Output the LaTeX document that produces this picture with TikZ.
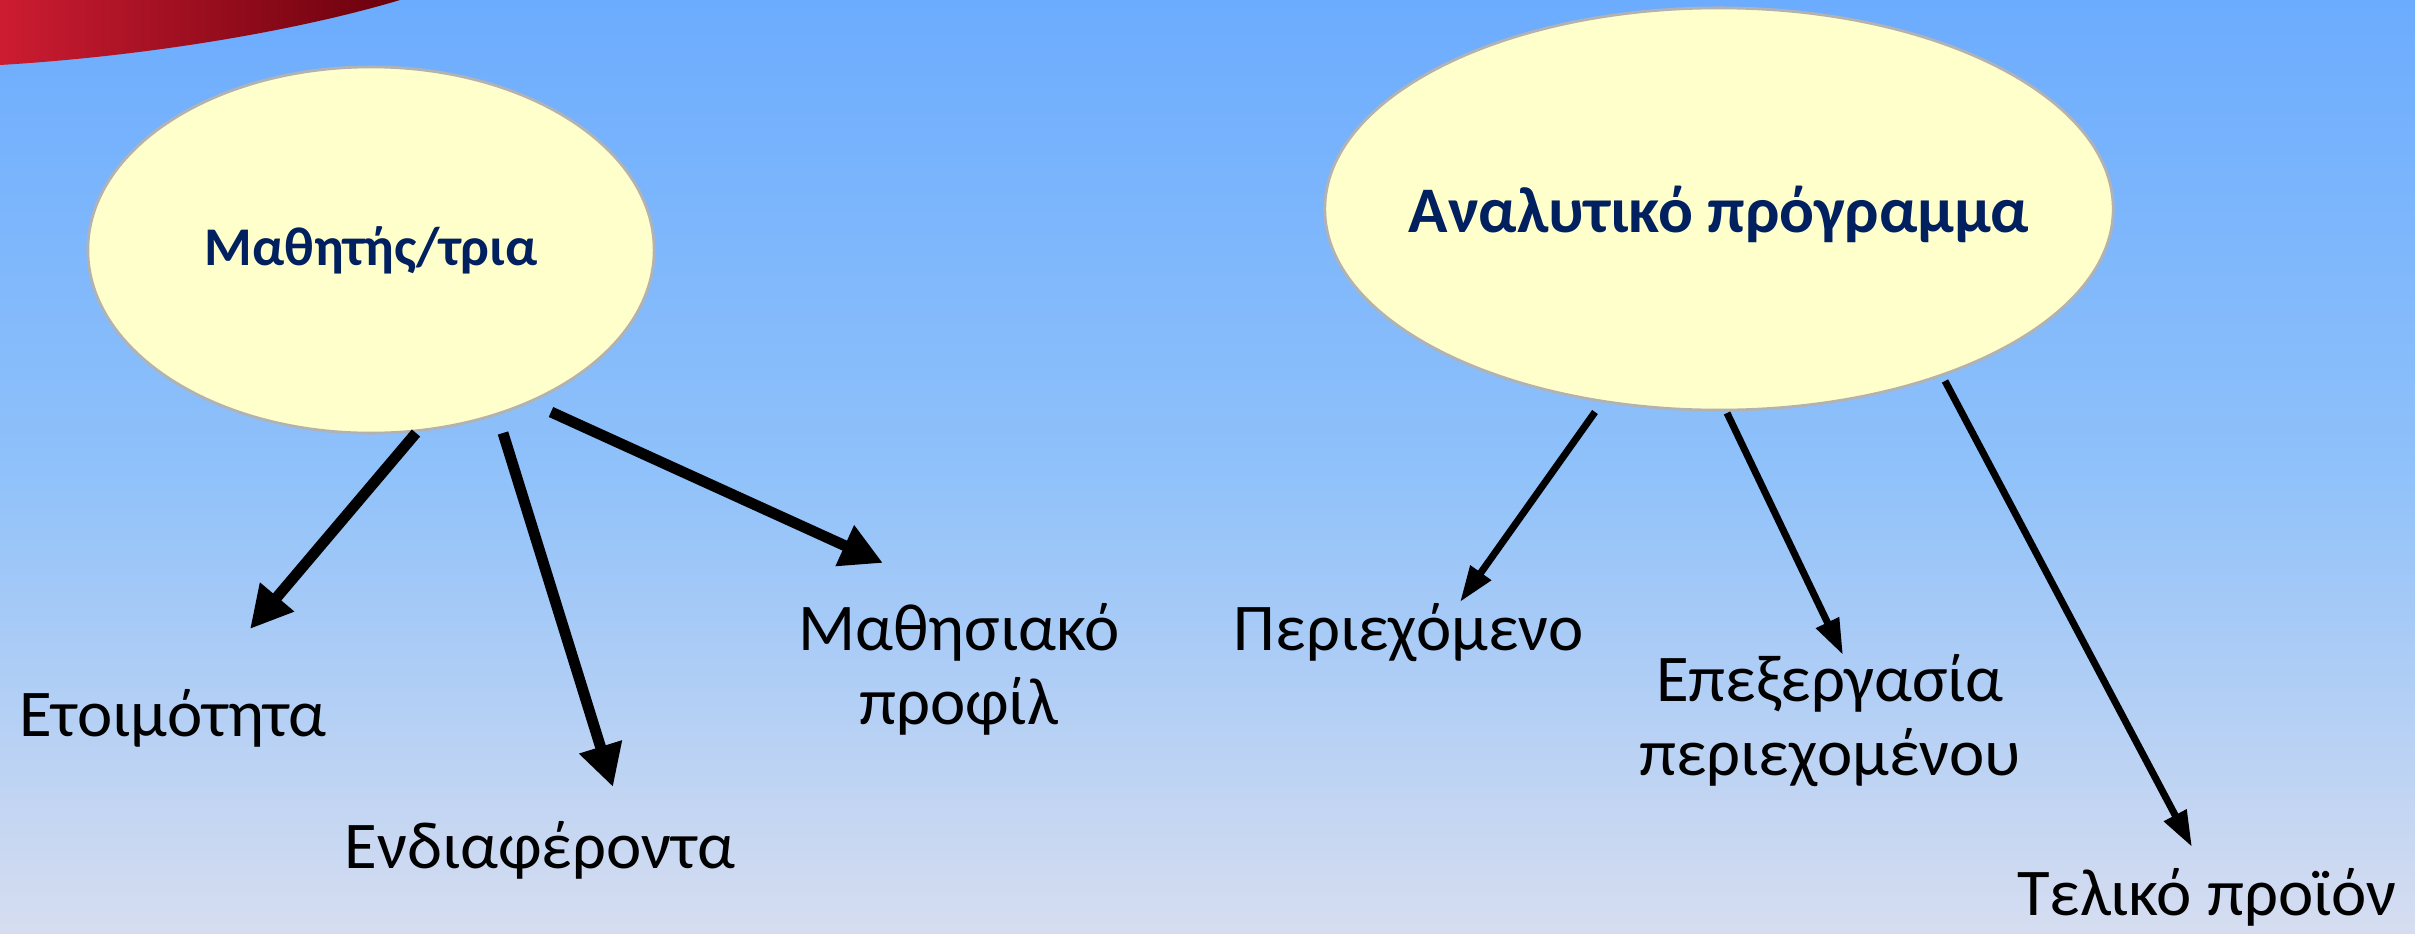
\documentclass[tikz,border=0pt]{standalone}
\usepackage{fontspec}
\setmainfont{Carlito}
\usetikzlibrary{arrows.meta,shapes.geometric}
\definecolor{skytop}{RGB}{108,172,254}
\definecolor{skymid}{RGB}{143,193,250}
\definecolor{skybot}{RGB}{214,221,240}
\definecolor{bubblefill}{RGB}{255,255,204}
\definecolor{bubbleline}{RGB}{178,178,178}
\definecolor{titleblue}{RGB}{0,32,96}
\definecolor{swooshred}{RGB}{205,28,50}
\definecolor{swooshdark}{RGB}{105,0,12}
\begin{document}
\begin{tikzpicture}[x=0.01cm,y=-0.01cm]
  \tikzset{bubble/.style={draw=bubbleline,line width=0.8pt,fill=bubblefill,ellipse,inner sep=0pt},
           title/.style={text=titleblue,font=\bfseries\fontsize{#1}{#1}\selectfont},
           label text/.style={font=\fontsize{19}{21}\selectfont,align=center,anchor=base},
           thick arrow/.style={line width=3.1pt,-{Triangle[length=0.42cm,width=0.42cm]}},
           thin arrow/.style={line width=2pt,-{Triangle[length=0.36cm,width=0.24cm]}}}

  \useasboundingbox (0,0) rectangle (2415,933);
  \shade[top color=skytop,bottom color=skybot,middle color=skymid] (0,0) rectangle (2415,933);
  \shade[left color=swooshred,right color=swooshdark] (0,0) -- (400,0) .. controls (300,30) and (150,56) .. (0,65) -- cycle;

  \node [bubble,minimum width=5.66cm,minimum height=3.66cm] (learner) at (371,250) {};
  \node [title=15.5] (learnertext) at (learner) {Μαθητής/τρια};
  \node [bubble,minimum width=7.88cm,minimum height=4.02cm] (syllabus) at (1719,209) {};
  \node [title=18.5] (syllabustext) at (1719,214) {Αναλυτικό πρόγραμμα};

  \node [label text] (readiness) at (173,736) {Ετοιμότητα};
  \node [label text] (interests) at (540,868) {Ενδιαφέροντα};
  \node [label text] (profile) at (959,724) {Μαθησιακό\\προφίλ};
  \node [label text] (content) at (1409,650) {Περιεχόμενο};
  \node [label text] (process) at (1830,775) {Επεξεργασία\\περιεχομένου};
  \node [label text] (product) at (2207,915) {Τελικό προϊόν};

  \coordinate (s1) at (416,433); \coordinate (t1) at (250,629);
  \coordinate (s2) at (503,433); \coordinate (t2) at (613,787);
  \coordinate (s3) at (551,412); \coordinate (t3) at (883,563);
  \coordinate (s4) at (1595,412); \coordinate (t4) at (1460,602);
  \coordinate (s5) at (1727,413); \coordinate (t5) at (1843,655);
  \coordinate (s6) at (1945,381); \coordinate (t6) at (2192,847);

  \draw [thick arrow] (s1) -- (t1);
  \draw [thick arrow] (s2) -- (t2);
  \draw [thick arrow] (s3) -- (t3);
  \draw [thin arrow] (s4) -- (t4);
  \draw [thin arrow] (s5) -- (t5);
  \draw [thin arrow] (s6) -- (t6);
\end{tikzpicture}
\end{document}
